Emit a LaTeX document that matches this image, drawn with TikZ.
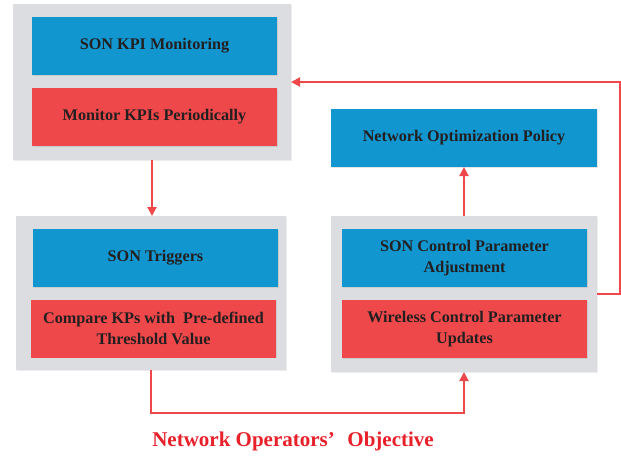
\documentclass[tikz,border=0pt]{standalone}
\usepackage{fontspec}
\setmainfont{Liberation Serif}
\usetikzlibrary{positioning,arrows.meta,shadows}

\definecolor{sonblue}{HTML}{1196CF}
\definecolor{sonred}{HTML}{EF484A}
\definecolor{songray}{HTML}{DCDDE0}
\definecolor{sontext}{HTML}{231F20}
\definecolor{goalred}{HTML}{E8202A}

\begin{document}
\begin{tikzpicture}[
  x=1pt, y=-1pt,
  panel/.style={rectangle, fill=songray, inner sep=0pt, outer sep=0pt,
    drop shadow={shadow xshift=0.8pt, shadow yshift=-0.8pt, opacity=0.15}},
  bluebox/.style={rectangle, fill=sonblue, text=sontext, align=center, inner sep=0pt, outer sep=0pt,
    minimum width=245pt, minimum height=58pt, font=\fontsize{16.2}{20.5}\selectfont\bfseries,
    drop shadow={shadow xshift=0.8pt, shadow yshift=-0.8pt, opacity=0.2}},
  redbox/.style={bluebox, fill=sonred},
  flow/.style={-{Triangle[length=9pt,width=9pt]}, draw=sonred, line width=2pt}
  ]
  \useasboundingbox (0,0) rectangle (621,456);

  % Left column: monitoring and triggers
  \node[panel, minimum width=278pt, minimum height=156pt] (mon) at (152,82) {};
  \node[bluebox] (kpi) at (154.5,46) {SON KPI Monitoring};
  \node[redbox] (period) at (154.5,117) {Monitor KPIs Periodically};

  \node[panel, minimum width=270pt, minimum height=154pt] (trig) at (151,293) {};
  \node[bluebox] (son) at (155.5,258) {SON Triggers};
  \node[redbox] (cmp) at (153.5,328.5) {Compare KPs with\ \ Pre-defined\\ Threshold Value};

  % Right column: adjustment and policy
  \node[bluebox, minimum width=266pt] (policy) at (464,138) {Network Optimization Policy};
  \node[panel, minimum width=266pt, minimum height=156pt] (adj) at (464,294) {};
  \node[bluebox] (ctrl) at (464.5,258) {SON Control Parameter\\ Adjustment};
  \node[redbox] (upd) at (464.5,329) {Wireless Control Parameter\\ Updates};

  \node[text=goalred, font=\fontsize{21}{23}\selectfont\bfseries] (goal) at (293,441)
    {Network Operators’\hspace{0.35em} Objective};

  % Connectors
  \draw[flow] (mon.south) -- (mon.south |- trig.north);
  \draw[flow] (trig.south) -- ++(0,43) -| (adj.south);
  \draw[flow] (adj.north) -- (policy.south);
  \draw[flow] (adj.east) -- ++(23,0) |- (mon.east);
\end{tikzpicture}
\end{document}
